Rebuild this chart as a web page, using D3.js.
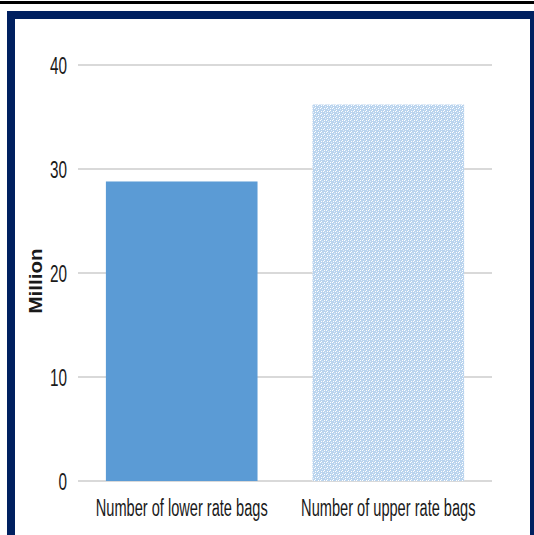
<!DOCTYPE html>
<html>
<head>
<meta charset="utf-8">
<script src="https://cdn.jsdelivr.net/npm/d3@7"></script>
<style>
  html, body { margin: 0; padding: 0; background: #fff; }
  svg { display: block; }
</style>
</head>
<body>
<svg id="chart" width="534" height="535"></svg>
<script>
// Bag counts by rate band, in millions
const categories = ["Number of lower rate bags", "Number of upper rate bags"];
const values = [28.8, 36.2];
const tickValues = [0, 10, 20, 30, 40];
const yTitle = "Million";

const svg = d3.select("#chart");
const W = 534, H = 535;

// Page frame: thin black rule and navy surround
svg.append("rect").attr("x", 0).attr("y", 1).attr("width", W).attr("height", 3).attr("fill", "#000");
svg.append("rect").attr("x", 7).attr("y", 11).attr("width", W - 7).attr("height", H - 11).attr("fill", "#002060");
svg.append("rect").attr("x", 15).attr("y", 19).attr("width", 515).attr("height", H - 19).attr("fill", "#fff");

// Dotted fill for the second bar
const defs = svg.append("defs");
const pat = defs.append("pattern")
  .attr("id", "dots").attr("patternUnits", "userSpaceOnUse")
  .attr("width", 6).attr("height", 6);
pat.append("rect").attr("width", 6).attr("height", 6).attr("fill", "#bad4ee");
[[0, 0], [3, 3], [2, 0], [0, 2], [5, 3], [3, 5]].forEach(([px, py]) => {
  pat.append("rect").attr("x", px).attr("y", py).attr("width", 1).attr("height", 1).attr("fill", "#ffffff");
});
pat.append("rect").attr("x", 1).attr("y", 4).attr("width", 1).attr("height", 1).attr("fill", "#e6f0fa");
pat.append("rect").attr("x", 4).attr("y", 1).attr("width", 1).attr("height", 1).attr("fill", "#e6f0fa");

const x = d3.scaleBand()
  .domain(categories)
  .range([78, 492])
  .paddingInner(0.266)
  .paddingOuter(0.135);

const y = d3.scaleLinear().domain([0, 40]).range([481, 65]);

const font = "'Liberation Sans', Arial, sans-serif";

// Horizontal gridlines
svg.append("g")
  .selectAll("line")
  .data(tickValues)
  .join("line")
  .attr("x1", 78).attr("x2", 492)
  .attr("y1", d => y(d)).attr("y2", d => y(d))
  .attr("stroke", "#d9d9d9")
  .attr("stroke-width", 2);

// Bars
svg.append("g")
  .selectAll("rect")
  .data(values)
  .join("rect")
  .attr("x", (d, i) => x(categories[i]))
  .attr("y", d => y(d))
  .attr("width", x.bandwidth())
  .attr("height", d => y(0) - y(d))
  .attr("fill", (d, i) => i === 0 ? "#5b9bd5" : "url(#dots)");

// Y axis labels
const yAxis = d3.axisLeft(y).tickValues(tickValues).tickSize(0).tickPadding(0).tickFormat(d3.format("d"));
const gy = svg.append("g").attr("transform", "translate(67,0)").call(yAxis);
gy.select(".domain").remove();
gy.selectAll("text")
  .attr("font-family", font)
  .attr("font-size", 23)
  .attr("fill", "#1a1a1a")
  .attr("x", 0)
  .attr("dy", "0.36em")
  .attr("transform", "scale(0.665,1)");

// X axis labels, centred under each bar
const xAxis = d3.axisBottom(x).tickSize(0).tickPadding(0);
const gx = svg.append("g").call(xAxis);
gx.select(".domain").remove();
gx.selectAll(".tick")
  .attr("transform", d => `translate(${x(d) + x.bandwidth() / 2},499)`);
gx.selectAll("text")
  .attr("font-family", font)
  .attr("font-size", 23)
  .attr("fill", "#1a1a1a")
  .attr("x", 0)
  .attr("y", 0)
  .attr("dy", "0.76em")
  .attr("transform", "scale(0.635,1)");

// Y axis title
svg.append("text")
  .attr("transform", `translate(42,${(y(0) + y(40)) / 2 + 8}) rotate(-90) scale(1.14,1)`)
  .attr("text-anchor", "middle")
  .attr("font-family", font)
  .attr("font-weight", "bold")
  .attr("font-size", 18)
  .attr("fill", "#1a1a1a")
  .text(yTitle);
</script>
</body>
</html>
